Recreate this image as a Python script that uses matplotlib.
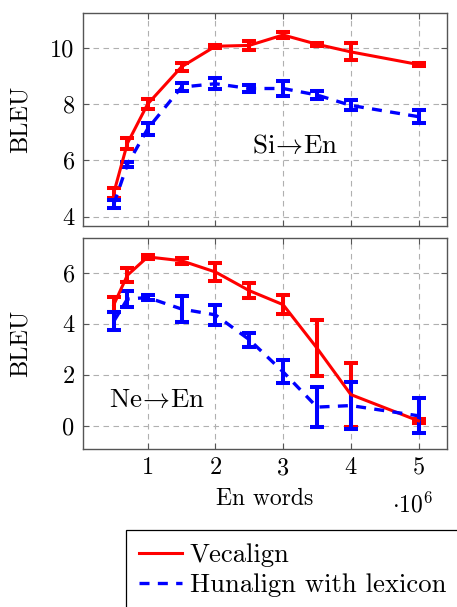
import matplotlib
matplotlib.use("Agg")
import matplotlib.pyplot as plt
from matplotlib.ticker import FuncFormatter
from matplotlib.lines import Line2D

plt.rcParams['font.family'] = 'serif'
plt.rcParams['font.serif'] = ['cmr10']
plt.rcParams['mathtext.fontset'] = 'cm'
plt.rcParams['axes.unicode_minus'] = False

# En words used for training
words = [0.5e6, 0.7e6, 1e6, 1.5e6, 2e6, 2.5e6, 3e6, 3.5e6, 4e6, 5e6]

# Si->En
si_vec = [4.85, 6.6, 8.0, 9.32, 10.05, 10.08, 10.45, 10.12, 9.85, 9.4]
si_vec_err = [0.18, 0.18, 0.18, 0.14, 0.05, 0.16, 0.12, 0.06, 0.3, 0.05]
si_hun = [4.45, 5.85, 7.12, 8.6, 8.72, 8.55, 8.55, 8.32, 7.95, 7.55]
si_hun_err = [0.15, 0.08, 0.22, 0.15, 0.2, 0.12, 0.25, 0.15, 0.18, 0.24]

# Ne->En
ne_vec = [4.75, 5.9, 6.62, 6.47, 6.03, 5.3, 4.75, 3.05, 1.23, 0.2]
ne_vec_err = [0.3, 0.28, 0.08, 0.12, 0.35, 0.28, 0.38, 1.1, 1.25, 0.08]
ne_hun = [4.1, 4.97, 5.03, 4.58, 4.35, 3.38, 2.12, 0.74, 0.8, 0.4]
ne_hun_err = [0.35, 0.3, 0.1, 0.5, 0.4, 0.27, 0.45, 0.77, 0.92, 0.68]

RED = '#ff0000'
BLUE = '#0000ff'

fig = plt.figure(figsize=(4.57, 6.07), dpi=100)
ax1 = fig.add_axes([83/457, 1-226/607, 364/457, 213/607])
ax2 = fig.add_axes([83/457, 1-449/607, 364/457, 211/607])


def panel(ax, vec, vec_err, hun, hun_err):
    ax.errorbar(words, vec, yerr=vec_err, color=RED, lw=2.2, elinewidth=2.9,
                capsize=4.7, capthick=2.9, zorder=3)
    ax.errorbar(words, hun, yerr=hun_err, color=BLUE, lw=2.4, ls=(0, (3, 2.5)),
                elinewidth=2.9, capsize=4.7, capthick=2.9, zorder=3)
    ax.set_xlim(0.045e6, 5.42e6)
    ax.set_xticks([1e6, 2e6, 3e6, 4e6, 5e6])
    ax.grid(True, color='#b0b0b0', ls=(0, (5, 4)), lw=0.8)
    ax.set_axisbelow(True)
    ax.tick_params(direction='in', length=4, top=True, right=True,
                   color='#555555', labelsize=17.5, pad=6)
    for s in ax.spines.values():
        s.set_color('#555555')
        s.set_linewidth(1.0)
    ax.set_ylabel('BLEU', fontsize=17.5)
    ax.yaxis.set_label_coords(-0.14, 0.5)


panel(ax1, si_vec, si_vec_err, si_hun, si_hun_err)
ax1.set_ylim(3.67, 11.23)
ax1.set_yticks([4, 6, 8, 10])
ax1.tick_params(labelbottom=False)
ax1.text(3.18e6, 6.5, '$\\mathrm{Si}\\!\\rightarrow\\!\\mathrm{En}$', fontsize=19.5,
         ha='center', va='center')

panel(ax2, ne_vec, ne_vec_err, ne_hun, ne_hun_err)
ax2.set_ylim(-0.9, 7.36)
ax2.set_yticks([0, 2, 4, 6])
ax2.xaxis.set_major_formatter(FuncFormatter(lambda v, p: '%d' % round(v / 1e6)))
ax2.text(1.14e6, 1.0, '$\\mathrm{Ne}\\!\\rightarrow\\!\\mathrm{En}$', fontsize=19.5,
         ha='center', va='center')
ax2.set_xlabel('En words', fontsize=17, labelpad=6)
fig.text(412/457, 1-505/607, '$\\cdot 10^{6}$', fontsize=17, ha='center', va='center')

handles = [Line2D([], [], color=RED, lw=2.2),
           Line2D([], [], color=BLUE, lw=2.4, ls=(0, (3, 2.5)))]
leg = fig.legend(handles, ['Vecalign', 'Hunalign with lexicon'], loc='upper left',
                 bbox_to_anchor=(126/457, 1-530/607), fontsize=19.2, frameon=True,
                 fancybox=False, edgecolor='black', framealpha=1,
                 handlelength=1.6, borderaxespad=0, labelspacing=0.25,
                 handletextpad=0.3, borderpad=0.5)
leg.get_frame().set_linewidth(0.9)

fig.savefig('out.png', dpi=100)
